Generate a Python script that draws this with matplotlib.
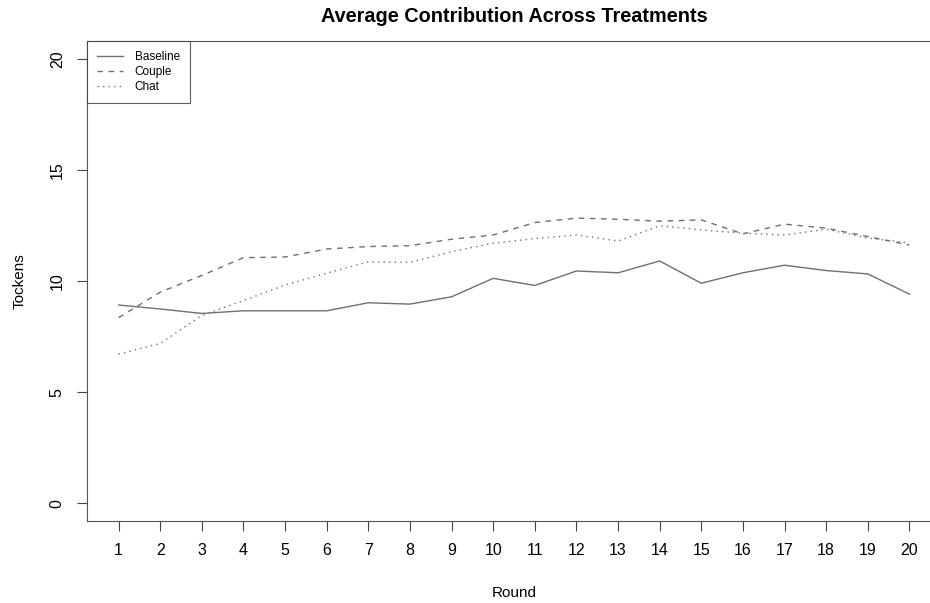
import numpy as np
import matplotlib
matplotlib.use('Agg')
import matplotlib.pyplot as plt

rounds = list(range(1, 21))
baseline = [8.92, 8.74, 8.54, 8.66, 8.66, 8.66, 9.02, 8.96, 9.29, 10.12,
            9.80, 10.45, 10.37, 10.90, 9.90, 10.37, 10.71, 10.47, 10.32, 9.41]
couple = [8.35, 9.50, 10.25, 11.05, 11.08, 11.44, 11.55, 11.59, 11.88, 12.07,
          12.63, 12.83, 12.78, 12.69, 12.75, 12.12, 12.56, 12.38, 12.00, 11.62]
chat = [6.71, 7.19, 8.45, 9.12, 9.82, 10.35, 10.86, 10.84, 11.32, 11.70,
        11.91, 12.07, 11.80, 12.48, 12.30, 12.15, 12.07, 12.33, 11.93, 11.72]
yticks = [0, 5, 10, 15, 20]

plt.rcParams['font.family'] = ['Liberation Sans', 'DejaVu Sans']

fig = plt.figure(figsize=(9.3, 6.03), dpi=100)
ax = fig.add_axes([87/930, 1 - 521/603, (941 - 87)/930, (521 - 41)/603])

col = '#707070'
ax.plot(rounds, baseline, color=col, lw=1.0, ls='-', label='Baseline')
ax.plot(rounds, couple, color=col, lw=1.0, ls=(0, (4, 4)), label='Couple')
ax.plot(rounds, chat, color=col, lw=1.0, ls=(0, (1, 3)), label='Chat')

ax.set_xlim(0.24, 20.76)
ax.set_ylim(-0.8, 20.8)
ax.set_xticks(rounds)
ax.set_yticks(yticks)
ax.tick_params(axis='both', length=7, width=0.8, color='#444444',
               labelsize=11.5, pad=9)
for lbl in ax.get_yticklabels():
    lbl.set_rotation(90)
    lbl.set_va('center')
for s in ax.spines.values():
    s.set_color('#555555')
    s.set_linewidth(0.8)

ax.set_xlabel('Round', fontsize=11, labelpad=20)
ax.set_ylabel('Tockens', fontsize=11, labelpad=17)
ax.set_title('Average Contribution Across Treatments', fontsize=14.3,
             fontweight='bold', pad=14)

leg = ax.legend(loc='upper left', fontsize=8.5, frameon=True, fancybox=False,
                borderaxespad=0, handlelength=2.2, handletextpad=1.0,
                labelspacing=0.25, borderpad=0.85)
leg.get_frame().set_edgecolor('#333333')
leg.get_frame().set_linewidth(0.8)

fig.savefig('out.png', dpi=100)
